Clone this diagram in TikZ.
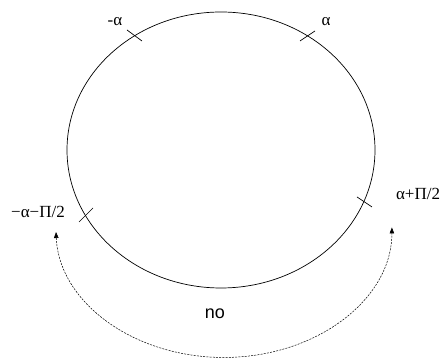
\documentclass[tikz,border=0pt]{standalone}
\usepackage{fontspec}
\setmainfont{Liberation Serif}
\setsansfont{Liberation Sans}
\usetikzlibrary{arrows.meta,shapes.geometric}

\begin{document}
\begin{tikzpicture}[x=1pt,y=1pt,
  tickmark/.style={line width=0.7pt},
  lab/.style={font=\fontsize{17}{20}\selectfont,inner sep=0pt},
  >={Triangle[length=6pt,width=4.5pt]}]
 \useasboundingbox (0,0) rectangle (445,361);
 % the circle of angles
 \draw[line width=0.7pt] (221,211) ellipse [x radius=154, y radius=138];
 \draw[tickmark] (127,331)--(142,320);
 \draw[tickmark] (300,320)--(315,330);
 \draw[tickmark] (79,139)--(93,153);
 \draw[tickmark] (357,164)--(372,154);
 \node[lab] (mina) at (115,339) {-α};
 \node[lab] (pla) at (326,339) {α};
 \node[lab] (minapi) at (38,149) {−α−Π/2};
 \node[lab] (plapi) at (418,167) {α+Π/2};
 % the forbidden jump
 \coordinate (lefttip) at (56,129);
 \draw[<->,dashed,dash pattern=on 2pt off 1.2pt,line width=0.5pt] (lefttip) arc[start angle=182, end angle=360, x radius=168, y radius=130];
 \node[lab,font=\sffamily\fontsize{18}{20}\selectfont] (no) at (215,47) {no};
\end{tikzpicture}
\end{document}
